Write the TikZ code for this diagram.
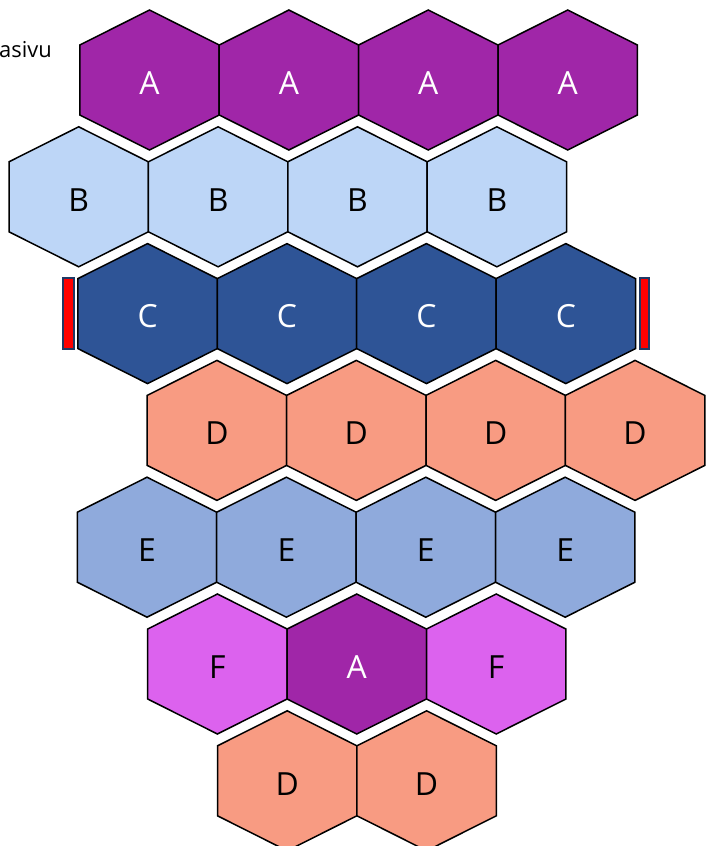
\documentclass[tikz,border=0pt]{standalone}
\usepackage{fontspec}
\setmainfont{Open Sans}

\definecolor{tileA}{RGB}{160,38,168}
\definecolor{tileB}{RGB}{189,214,247}
\definecolor{tileC}{RGB}{46,84,150}
\definecolor{tileD}{RGB}{248,155,130}
\definecolor{tileE}{RGB}{143,170,220}
\definecolor{tileF}{RGB}{220,98,238}
\definecolor{barline}{RGB}{32,56,100}

% one hexagon tile: name, x, y, fill colour, label colour, label
\newcommand{\hextile}[6]{%
  \draw[hexline, fill=#4] (#2,#3) +(0,-70) -- +(69.7,-35) -- +(69.7,35)
    -- +(0,70) -- +(-69.7,35) -- +(-69.7,-35) -- cycle;
  \node[tilelabel, text=#5] (#1) at (#2,#3) {#6};
}

\begin{document}
\begin{tikzpicture}[
    x=1bp, y=-1bp,
    hexline/.style={draw=black, line width=1.5bp, line join=miter},
    tilelabel/.style={inner sep=0pt, yshift=-3bp, font=\fontsize{32}{32}\selectfont},
    marker/.style={draw=barline, fill=red, line width=1.5bp}
]
\useasboundingbox (0,0) rectangle (710,846);
\clip (0,0) rectangle (710,846);

% page title, cut at the edge
\node[anchor=base west, inner sep=0pt, font=\fontsize{22}{22}\selectfont] (title) at (-1,57) {asivu};

% Row A
\hextile{a1}{149.5}{80}{tileA}{white}{A}
\hextile{a2}{288.9}{80}{tileA}{white}{A}
\hextile{a3}{428.3}{80}{tileA}{white}{A}
\hextile{a4}{567.7}{80}{tileA}{white}{A}

% Row B
\hextile{b1}{78.7}{196.8}{tileB}{black}{B}
\hextile{b2}{218.1}{196.8}{tileB}{black}{B}
\hextile{b3}{357.5}{196.8}{tileB}{black}{B}
\hextile{b4}{496.9}{196.8}{tileB}{black}{B}

% Row C
\hextile{c1}{147.6}{313.6}{tileC}{white}{C}
\hextile{c2}{287.0}{313.6}{tileC}{white}{C}
\hextile{c3}{426.4}{313.6}{tileC}{white}{C}
\hextile{c4}{565.8}{313.6}{tileC}{white}{C}

% markers beside row C
\node[marker, minimum width=11bp, minimum height=71bp, inner sep=0pt] (markleft) at (68.5,313.6) {};
\node[marker, minimum width=9bp, minimum height=71bp, inner sep=0pt] (markright) at (644.5,313.6) {};

% Row D
\hextile{d1}{216.9}{430.4}{tileD}{black}{D}
\hextile{d2}{356.3}{430.4}{tileD}{black}{D}
\hextile{d3}{495.7}{430.4}{tileD}{black}{D}
\hextile{d4}{635.1}{430.4}{tileD}{black}{D}

% Row E
\hextile{e1}{147.0}{547.2}{tileE}{black}{E}
\hextile{e2}{286.4}{547.2}{tileE}{black}{E}
\hextile{e3}{425.8}{547.2}{tileE}{black}{E}
\hextile{e4}{565.2}{547.2}{tileE}{black}{E}

% Row F
\hextile{f1}{217.4}{664}{tileF}{black}{F}
\hextile{f2}{356.8}{664}{tileA}{white}{A}
\hextile{f3}{496.2}{664}{tileF}{black}{F}

% last row
\hextile{g1}{287.2}{780.8}{tileD}{black}{D}
\hextile{g2}{426.6}{780.8}{tileD}{black}{D}

\end{tikzpicture}
\end{document}
